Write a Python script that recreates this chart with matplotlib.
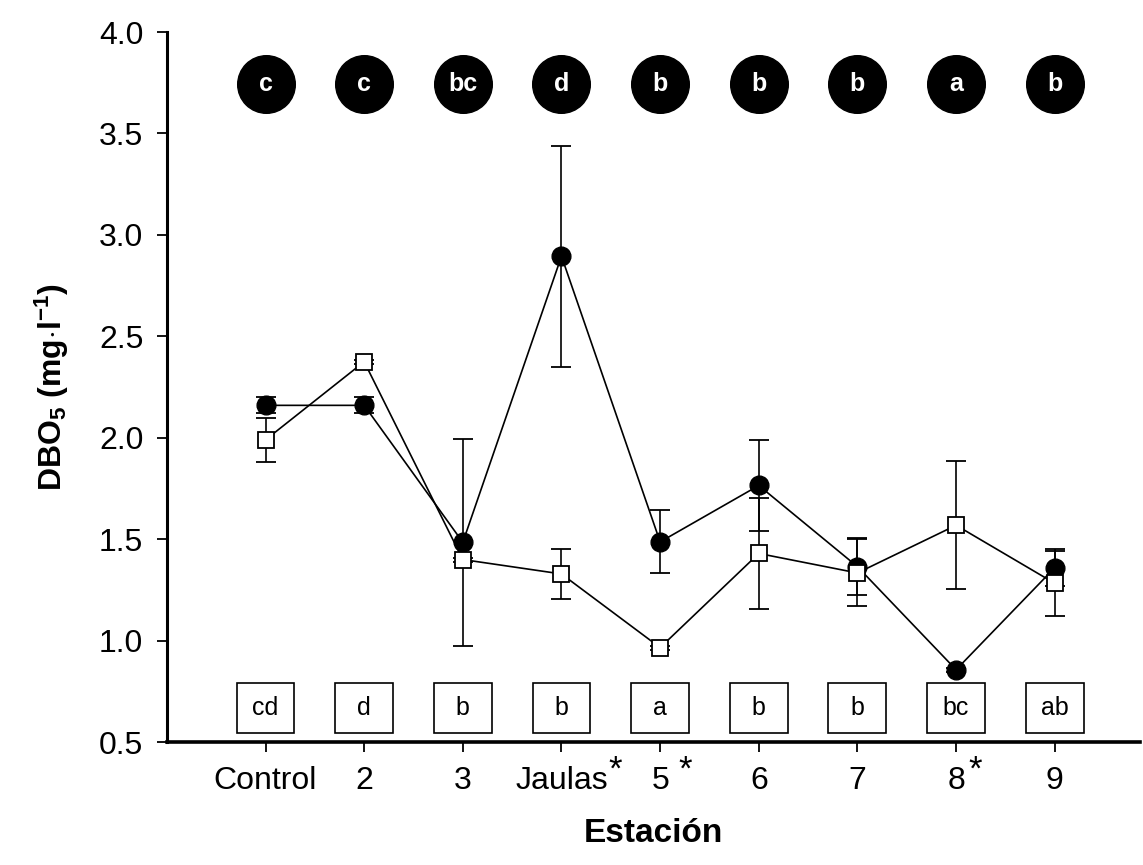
import matplotlib
matplotlib.use("Agg")
import matplotlib.pyplot as plt
from matplotlib.patches import Rectangle
from matplotlib.transforms import offset_copy, blended_transform_factory

plt.rcParams['font.family'] = ['Liberation Sans', 'DejaVu Sans']
plt.rcParams['mathtext.fontset'] = 'custom'
plt.rcParams['mathtext.rm'] = 'Liberation Sans'
plt.rcParams['mathtext.bf'] = 'Liberation Sans:bold'
plt.rcParams['mathtext.it'] = 'Liberation Sans:italic'

stations = ['Control', '2', '3', 'Jaulas', '5', '6', '7', '8', '9']
starred = [False, False, False, True, True, False, False, True, False]
star_offsets_pt = [0, 0, 0, 39, 18, 0, 0, 14, 0]
circle_vals = [2.16, 2.16, 1.485, 2.895, 1.487, 1.765, 1.365, 0.857, 1.36]
circle_err = [0.04, 0.04, 0.51, 0.545, 0.155, 0.225, 0.14, 0.01, 0.09]
square_vals = [1.99, 2.375, 1.40, 1.329, 0.966, 1.43, 1.334, 1.569, 1.283]
square_err = [0.11, 0.01, 0.01, 0.125, 0.01, 0.273, 0.165, 0.315, 0.16]
circle_letters = ['c', 'c', 'bc', 'd', 'b', 'b', 'b', 'a', 'b']
square_letters = ['cd', 'd', 'b', 'b', 'a', 'b', 'b', 'bc', 'ab']

x = list(range(1, len(stations) + 1))

fig = plt.figure(figsize=(11.43, 8.65), dpi=100)
ax = fig.add_axes([0.146, 0.142, 0.851, 0.821])

ax.errorbar(x, circle_vals, yerr=circle_err, fmt='-o', color='black', mfc='black', mec='black',
            ms=13.5, lw=1.2, elinewidth=1.2, capsize=7, capthick=1.3, zorder=3)
ax.errorbar(x, square_vals, yerr=square_err, fmt='-s', color='black', mfc='white', mec='black',
            ms=11, mew=1.3, lw=1.2, elinewidth=1.2, capsize=7, capthick=1.3, zorder=4)

# letters in black circles at top
for xi, lab in zip(x, circle_letters):
    ax.plot(xi, 3.745, 'o', color='black', ms=41.5, clip_on=False, zorder=5)
    ax.text(xi, 3.745, lab, color='white', fontsize=18, fontweight='bold',
            ha='center', va='center', zorder=6)

# letters in boxes at bottom
bw, bh = 0.587, 0.246
for xi, lab in zip(x, square_letters):
    ax.add_patch(Rectangle((xi - bw / 2, 0.545), bw, bh, facecolor='white',
                           edgecolor='black', lw=1.2, zorder=5))
    ax.text(xi, 0.667, lab, fontsize=18, ha='center', va='center', zorder=6)

ax.set_xlim(0.0, 9.86)
ax.set_ylim(0.5, 4.0)
ax.set_xticks(x)
ax.set_xticklabels(stations)
ax.set_yticks([0.5, 1.0, 1.5, 2.0, 2.5, 3.0, 3.5, 4.0])
ax.set_yticklabels(['0.5', '1.0', '1.5', '2.0', '2.5', '3.0', '3.5', '4.0'])

# asterisks next to station labels (raised, superscript-like)
blend = blended_transform_factory(ax.transData, ax.transAxes)
for xi, st, off in zip(x, starred, star_offsets_pt):
    if st:
        tr = offset_copy(blend, fig=fig, x=off, y=-8, units='points')
        ax.text(xi, 0, '*', transform=tr, fontsize=25, ha='center', va='top',
                clip_on=False)

for s in ['top', 'right']:
    ax.spines[s].set_visible(False)
ax.spines['left'].set_linewidth(2.2)
ax.spines['bottom'].set_linewidth(2.6)
ax.tick_params(axis='both', direction='out', length=7, width=1.3, labelsize=23)
ax.tick_params(axis='x', pad=10)
ax.tick_params(axis='y', pad=10)

ax.set_xlabel('Estación', fontsize=24, fontweight='bold', labelpad=16)
ax.set_ylabel(r'$\mathbf{DBO_5\ (mg{\cdot}l^{-1})}$', fontsize=23, labelpad=20)

fig.savefig('out.png', dpi=100)
